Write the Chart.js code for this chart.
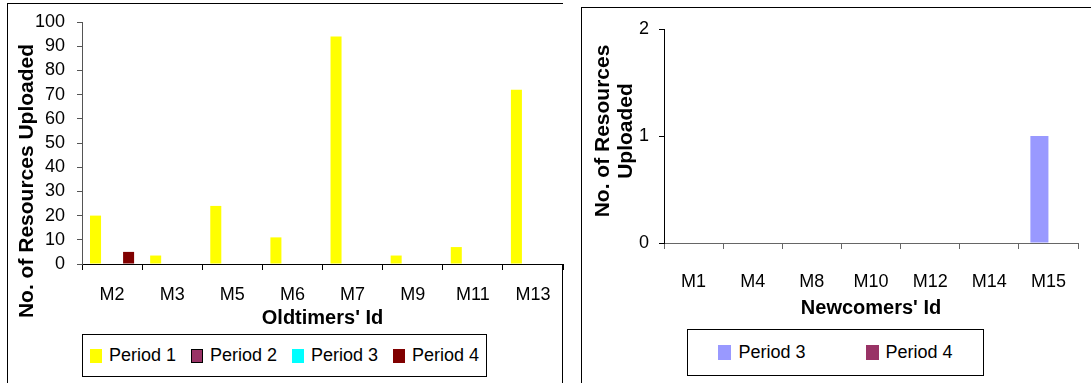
<!DOCTYPE html>
<html lang="en">
<head>
<meta charset="UTF-8">
<title>Resources Uploaded</title>
<script src="https://cdn.jsdelivr.net/npm/chart.js"></script>
<style>
    body {
        margin: 0;
        background: #fff;
        font-family: 'Liberation Sans', Arial, sans-serif;
    }
    #page {
        position: relative;
        width: 1091px;
        height: 383px;
        overflow: hidden;
    }
    .frame {
        position: absolute;
        border: 1px solid #000;
    }
    .wrap {
        position: absolute;
    }
    .legend {
        position: absolute;
        box-sizing: border-box;
        border: 1px solid #000;
        display: flex;
        align-items: center;
        justify-content: center;
        font-size: 18px;
        color: #000;
    }
    .legend .item {
        display: flex;
        align-items: center;
    }
    .legend i {
        display: inline-block;
        box-sizing: border-box;
        margin-right: 7px;
    }
</style>
</head>
<body>
<div id="page">
    <!-- frames round the two charts -->
    <div class="frame" style="left:7px; top:3px; width:555px; height:400px; border-right:none;"></div>
    <div style="position:absolute; left:562px; top:264px; width:1px; height:119px; background:#000;"></div>
    <div class="frame" style="left:581px; top:7px; width:600px; height:400px;"></div>

    <div class="wrap" style="left:0; top:0; width:566px; height:330px;">
        <canvas id="oldChart"></canvas>
    </div>
    <div class="wrap" style="left:582px; top:8px; width:509px; height:312px;">
        <canvas id="newChart"></canvas>
    </div>

    <div class="legend" id="oldLegend" style="left:82px; top:334px; width:405px; height:43px; gap:15px;"></div>
    <div class="legend" id="newLegend" style="left:687px; top:329px; width:297px; height:47px; gap:60px;"></div>
</div>

<script>
    // Oldtimers
    const oldMembers = ['M2', 'M3', 'M5', 'M6', 'M7', 'M9', 'M11', 'M13'];
    const oldPeriod1 = [20, 3.5, 24, 11, 94, 3.5, 7, 72];
    const oldPeriod2 = [0, 0, 0, 0, 0, 0, 0, 0];
    const oldPeriod3 = [0, 0, 0, 0, 0, 0, 0, 0];
    const oldPeriod4 = [5, 0, 0, 0, 0, 0, 0, 0];
    const oldMax = 100;
    const oldStep = 10;

    // Newcomers
    const newMembers = ['M1', 'M4', 'M8', 'M10', 'M12', 'M14', 'M15'];
    const newPeriod3 = [0, 0, 0, 0, 0, 0, 1];
    const newPeriod4 = [0, 0, 0, 0, 0, 0, 0];
    const newMax = 2;
    const newStep = 1;

    const FONT = "'Liberation Sans', Arial, sans-serif";

    // draws the rotated y-axis title (one or more lines)
    const yTitlePlugin = {
        id: 'yTitle',
        afterDraw(chart, args, opts) {
            const ctx = chart.ctx;
            ctx.save();
            ctx.font = 'bold 21px ' + FONT;
            ctx.fillStyle = '#000';
            ctx.textAlign = 'center';
            ctx.textBaseline = 'alphabetic';
            opts.lines.forEach((line, i) => {
                ctx.save();
                ctx.translate(opts.x[i], opts.y);
                ctx.rotate(-Math.PI / 2);
                ctx.fillText(line, 0, 0);
                ctx.restore();
            });
            ctx.restore();
        }
    };

    function makeChart(id, labels, datasets, cfg) {
        return new Chart(document.getElementById(id), {
            type: 'bar',
            data: { labels: labels, datasets: datasets },
            options: {
                responsive: true,
                maintainAspectRatio: false,
                animation: false,
                categoryPercentage: cfg.catPct,
                barPercentage: 1,
                layout: { padding: { left: 0, top: cfg.padTop, right: cfg.padRight, bottom: 0 } },
                plugins: {
                    legend: { display: false },
                    tooltip: { enabled: false },
                    yTitle: cfg.yTitle
                },
                scales: {
                    x: {
                        afterFit: s => { s.height = cfg.xHeight; },
                        grid: {
                            offset: true,
                            drawOnChartArea: false,
                            drawTicks: true,
                            tickLength: 6,
                            color: cfg.xColor
                        },
                        border: { display: true, color: cfg.xColor, width: 1 },
                        ticks: {
                            color: '#000',
                            font: { family: FONT, size: 18 },
                            padding: cfg.xPad,
                            maxRotation: 0,
                            autoSkip: false
                        },
                        title: {
                            display: true,
                            text: cfg.xTitle,
                            color: '#000',
                            font: { family: FONT, size: 20, weight: 'bold' },
                            padding: 0
                        }
                    },
                    y: {
                        min: 0,
                        max: cfg.max,
                        afterFit: s => { s.width = cfg.yWidth; },
                        grid: {
                            drawOnChartArea: false,
                            drawTicks: true,
                            tickLength: 5,
                            color: cfg.yColor
                        },
                        border: { display: true, color: cfg.yColor, width: 1 },
                        ticks: {
                            stepSize: cfg.step,
                            autoSkip: false,
                            color: '#000',
                            font: { family: FONT, size: cfg.yFont, lineHeight: 1 },
                            padding: cfg.yPad
                        }
                    }
                }
            },
            plugins: [yTitlePlugin]
        });
    }

    const oldDatasets = [
        { label: 'Period 1', data: oldPeriod1, backgroundColor: '#FFFF00' },
        { label: 'Period 2', data: oldPeriod2, backgroundColor: '#993366' },
        { label: 'Period 3', data: oldPeriod3, backgroundColor: '#00FFFF' },
        { label: 'Period 4', data: oldPeriod4, backgroundColor: '#800000' }
    ];
    const newDatasets = [
        { label: 'Period 3', data: newPeriod3, backgroundColor: '#9999FF' },
        { label: 'Period 4', data: newPeriod4, backgroundColor: '#993366' }
    ];

    makeChart('oldChart', oldMembers, oldDatasets, {
        catPct: 0.733, padTop: 22, padRight: 3, xHeight: 66, yWidth: 82,
        xPad: 14, yPad: 12, yFont: 18, max: oldMax, step: oldStep,
        xColor: '#000', yColor: '#555',
        xTitle: "Oldtimers' Id",
        yTitle: { lines: ['No. of Resources Uploaded'], x: [33], y: 181 }
    });

    makeChart('newChart', newMembers, newDatasets, {
        catPct: 0.61, padTop: 21, padRight: 13, xHeight: 77, yWidth: 82,
        xPad: 22, yPad: 10, yFont: 18, max: newMax, step: newStep,
        xColor: '#666', yColor: '#000',
        xTitle: "Newcomers' Id",
        yTitle: { lines: ['No. of Resources', 'Uploaded'], x: [27, 50], y: 123 }
    });

    // legends built from the same datasets
    function buildLegend(id, datasets, swatch) {
        const box = document.getElementById(id);
        datasets.forEach((ds, i) => {
            const item = document.createElement('span');
            item.className = 'item';
            const sw = document.createElement('i');
            sw.style.width = swatch.w + 'px';
            sw.style.height = swatch.h + 'px';
            sw.style.background = ds.backgroundColor;
            if (swatch.bordered && swatch.bordered[i]) sw.style.border = '1px solid #000';
            item.appendChild(sw);
            item.appendChild(document.createTextNode(ds.label));
            box.appendChild(item);
        });
    }
    buildLegend('oldLegend', oldDatasets, { w: 12, h: 14, bordered: [false, true, false, false] });
    buildLegend('newLegend', newDatasets, { w: 13, h: 15 });
</script>
</body>
</html>
